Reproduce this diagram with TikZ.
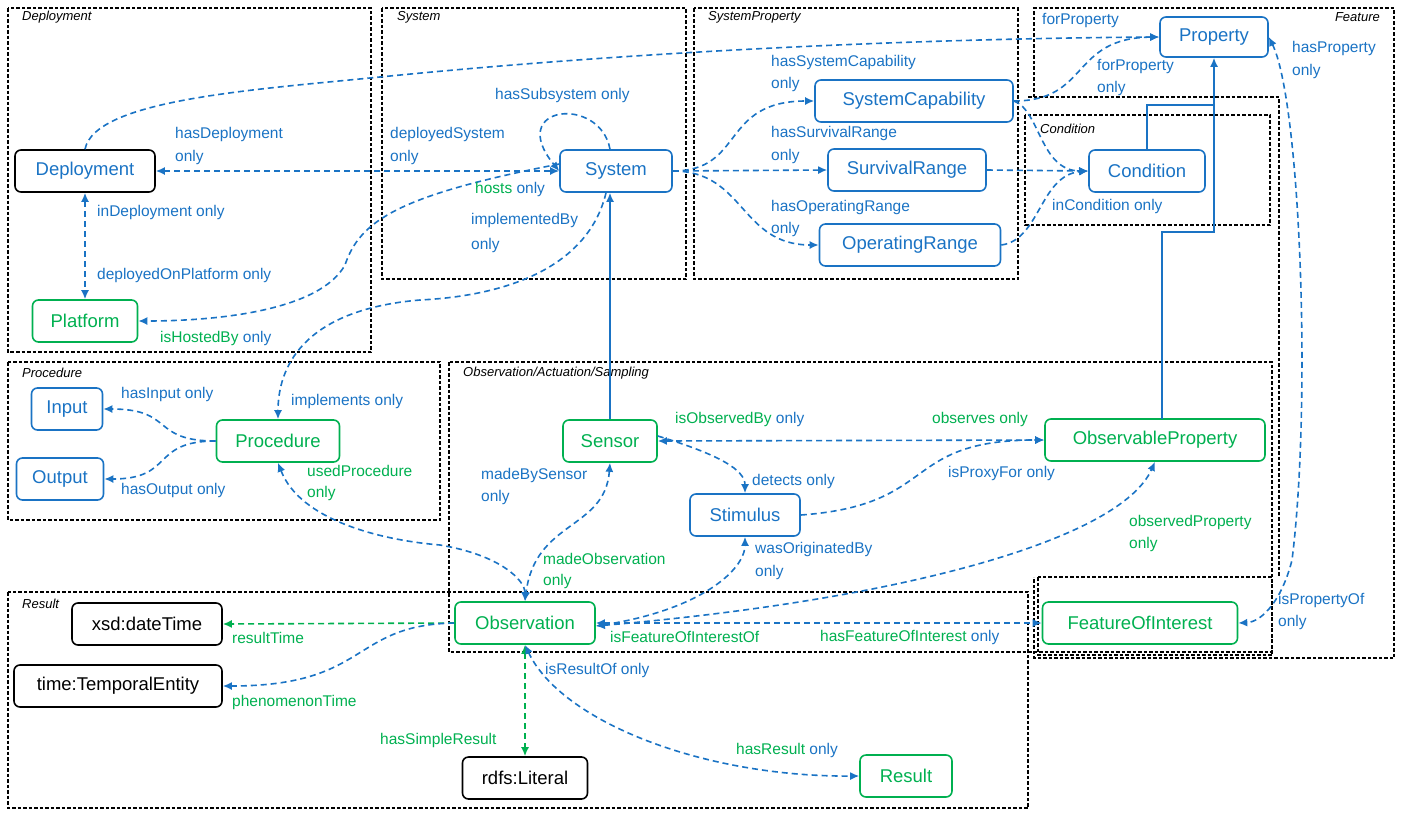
\documentclass[tikz,border=0pt]{standalone}
\usepackage{fontspec}
\setmainfont{Liberation Sans}
\usetikzlibrary{arrows.meta}
\definecolor{bl}{HTML}{1A73C4}
\definecolor{gr}{HTML}{00B050}
\begin{document}
\begin{tikzpicture}[x=1pt,y=-1pt,
  box/.style={draw,line width=1.1pt,dash pattern=on 3.5pt off 2pt},
  ttl/.style={font=\fontsize{13}{15}\selectfont\itshape,anchor=west,inner sep=0},
  nd/.style={draw=bl,text=bl,rounded corners=6pt,line width=1.6pt,minimum height=42pt,inner sep=0,font=\fontsize{18.5}{20}\selectfont},
  gn/.style={nd,draw=gr,text=gr},
  kn/.style={nd,draw=black,text=black},
  lb/.style={font=\fontsize{15.5}{17}\selectfont,text=bl,anchor=west,inner sep=0},
  dl/.style={draw=bl,line width=1.6pt,dash pattern=on 6pt off 4pt,arrows={-Latex[length=9pt,width=8pt]}},
  bd/.style={dl,arrows={Latex[length=9pt,width=8pt]-Latex[length=9pt,width=8pt]}},
  sl/.style={draw=bl,line width=1.6pt,arrows={-Latex[length=9pt,width=8pt]}},
]
\useasboundingbox (0,0) rectangle (1404,817);
% boxes
\draw[box] (8,8) rectangle (371,352);
\draw[box] (382,8) rectangle (686,279);
\draw[box] (694,8) rectangle (1018,279);
\draw[box] (1034,97) -- (1034,8) -- (1394,8) -- (1394,658) -- (1034,658) -- (1034,577);
\draw[box] (1028,97) -- (1279,97) -- (1279,577);
\draw[box] (1025,115) rectangle (1270,225);
\draw[box] (8,362) rectangle (440,520);
\draw[box] (449,362) rectangle (1272,652);
\draw[box] (1038,577) rectangle (1272,655);
\draw[box] (8,592) rectangle (1028,808);
\node[ttl] at (22,17) {Deployment};
\node[ttl] at (397,17) {System};
\node[ttl] at (708,17) {SystemProperty};
\node[ttl,anchor=east] at (1380,17) {Feature};
\node[ttl] at (1040,129) {Condition};
\node[ttl] at (22,373) {Procedure};
\node[ttl] at (463,373) {Observation/Actuation/Sampling};
\node[ttl] at (22,604) {Result};
% nodes
\node[kn,text=bl,minimum width=140pt] (Deployment) at (85,171) {Deployment};
\node[gn,minimum width=105pt] (Platform) at (85,321) {Platform};
\node[nd,minimum width=112pt] (System) at (616,171) {System};
\node[nd,minimum width=198pt] (SystemCapability) at (914,101) {SystemCapability};
\node[nd,minimum width=158pt] (SurvivalRange) at (907,170) {SurvivalRange};
\node[nd,minimum width=181pt] (OperatingRange) at (910,245) {OperatingRange};
\node[nd,minimum width=116pt] (Condition) at (1147,171) {Condition};
\node[nd,minimum width=108pt,minimum height=40pt] (Property) at (1214,37) {Property};
\node[nd,minimum width=71pt] (Input) at (67,409) {Input};
\node[nd,minimum width=87pt] (Output) at (60,479) {Output};
\node[gn,minimum width=123pt] (Procedure) at (278,441) {Procedure};
\node[gn,minimum width=94pt] (Sensor) at (610,441) {Sensor};
\node[nd,minimum width=110pt] (Stimulus) at (745,515) {Stimulus};
\node[gn,minimum width=220pt] (ObservableProperty) at (1155,440) {ObservableProperty};
\node[gn,minimum width=140pt] (Observation) at (525,623) {Observation};
\node[gn,minimum width=195pt] (FOI) at (1140,623) {FeatureOfInterest};
\node[kn,minimum width=150pt] (xsd) at (147,624) {xsd:dateTime};
\node[kn,minimum width=208pt] (time) at (118,686) {time:TemporalEntity};
\node[kn,minimum width=125pt] (Literal) at (525,778) {rdfs:Literal};
\node[gn,minimum width=92pt] (Result) at (906,776) {Result};
% connectors
\draw[bd] (Deployment.east) -- (System.west);
\draw[bd] (Deployment.south) -- (Platform.north);
\draw[dl] ([yshift=7]System.west) .. controls (400,195) and (360,220) .. (345,265) .. controls (320,310) and (220,321) .. (Platform.east);
\draw[dl] ([xshift=-10]System.south) .. controls (590,260) and (520,295) .. (420,300) .. controls (300,310) and (278,370) .. (Procedure.north);
\draw[dl] ([xshift=-6]System.north) .. controls (600,95) and (505,105) .. (System.west);
\draw[dl] (Deployment.north) .. controls (95,100) and (250,90) .. (380,77) .. controls (700,45) and (1000,38) .. (Property.west);
\draw[dl] (System.east) .. controls (745,171) and (720,101) .. (SystemCapability.west);
\draw[dl] (System.east) -- (SurvivalRange.west);
\draw[dl] (System.east) .. controls (745,171) and (740,245) .. (OperatingRange.west);
\draw[dl] (SystemCapability.east) .. controls (1090,101) and (1070,38) .. (Property.west);
\draw[dl] (SystemCapability.east) .. controls (1040,110) and (1040,171) .. (Condition.west);
\draw[dl] (SurvivalRange.east) -- (Condition.west);
\draw[dl] (OperatingRange.east) .. controls (1040,240) and (1040,175) .. (Condition.west);
\draw[draw=bl,line width=1.6pt] (Condition.north) -- (1147,105) -- (1214,105);
\draw[sl] (1162,419) -- (1162,232) -- (1214,232) -- (Property.south);
\draw[sl] (Sensor.north) -- (Sensor.north |- System.south);
\draw[bd] (Property.east) .. controls (1300,100) and (1312,400) .. (1292,560) .. controls (1282,600) and (1262,622) .. (FOI.east);
\draw[dl] (Procedure.west) .. controls (150,441) and (175,409) .. (Input.east);
\draw[dl] (Procedure.west) .. controls (150,441) and (175,479) .. (Output.east);
\draw[bd] (Procedure.south) .. controls (300,520) and (380,540) .. (440,545) .. controls (500,555) and (525,580) .. (Observation.north);
\draw[bd] (Sensor.south) .. controls (605,530) and (535,520) .. (Observation.north);
\draw[bd] (Sensor.east) -- (ObservableProperty.west);
\draw[dl] ([yshift=5]Sensor.east) .. controls (720,455) and (745,470) .. (Stimulus.north);
\draw[dl] (Stimulus.east) .. controls (940,505) and (900,440) .. (ObservableProperty.west);
\draw[bd] ([yshift=-3]Observation.east) .. controls (700,610) and (745,570) .. (Stimulus.south);
\draw[bd] ([yshift=-3]Observation.east) .. controls (900,600) and (1120,540) .. (ObservableProperty.south);
\draw[bd] (Observation.east) -- (FOI.west);
\draw[dl,draw=gr] (Observation.west) -- (xsd.east);
\draw[dl] (Observation.west) .. controls (350,625) and (370,686) .. (time.east);
\draw[bd,draw=gr] (Observation.south) -- (Literal.north);
\draw[bd] (Observation.south) .. controls (560,720) and (700,777) .. (Result.west);
% labels
\node[lb] at (175,134) {hasDeployment};
\node[lb] at (175,157) {only};
\node[lb] at (390,134) {deployedSystem};
\node[lb] at (390,157) {only};
\node[lb] at (495,95) {hasSubsystem only};
\node[lb] at (475,189) {\textcolor{gr}{hosts} only};
\node[lb] at (471,220) {implementedBy};
\node[lb] at (471,245) {only};
\node[lb] at (97,212) {inDeployment only};
\node[lb] at (97,275) {deployedOnPlatform only};
\node[lb] at (160,338) {\textcolor{gr}{isHostedBy} only};
\node[lb] at (771,62) {hasSystemCapability};
\node[lb] at (771,84) {only};
\node[lb] at (771,133) {hasSurvivalRange};
\node[lb] at (771,156) {only};
\node[lb] at (771,207) {hasOperatingRange};
\node[lb] at (771,229) {only};
\node[lb] at (1042,20) {forProperty};
\node[lb] at (1097,66) {forProperty};
\node[lb] at (1097,88) {only};
\node[lb] at (1292,48) {hasProperty};
\node[lb] at (1292,71) {only};
\node[lb] at (1052,206) {inCondition only};
\node[lb] at (121,394) {hasInput only};
\node[lb] at (291,401) {implements only};
\node[lb] at (121,490) {hasOutput only};
\node[lb,text=gr] at (307,471) {usedProcedure};
\node[lb,text=gr] at (307,493) {only};
\node[lb] at (675,419) {\textcolor{gr}{isObservedBy} only};
\node[lb,text=gr] at (932,419) {observes only};
\node[lb] at (752,481) {detects only};
\node[lb] at (948,473) {isProxyFor only};
\node[lb] at (481,475) {madeBySensor};
\node[lb] at (481,497) {only};
\node[lb,text=gr] at (543,559) {madeObservation};
\node[lb,text=gr] at (543,581) {only};
\node[lb] at (755,549) {wasOriginatedBy};
\node[lb] at (755,572) {only};
\node[lb,text=gr] at (1129,522) {observedProperty};
\node[lb,text=gr] at (1129,544) {only};
\node[lb] at (1278,600) {isPropertyOf};
\node[lb] at (1278,622) {only};
\node[lb,text=gr] at (610,637) {isFeatureOfInterestOf};
\node[lb] at (820,637) {\textcolor{gr}{hasFeatureOfInterest} only};
\node[lb,text=gr] at (232,638) {resultTime};
\node[lb,text=gr] at (232,702) {phenomenonTime};
\node[lb] at (545,670) {isResultOf only};
\node[lb,text=gr] at (380,740) {hasSimpleResult};
\node[lb] at (736,750) {\textcolor{gr}{hasResult} only};
\end{tikzpicture}
\end{document}
